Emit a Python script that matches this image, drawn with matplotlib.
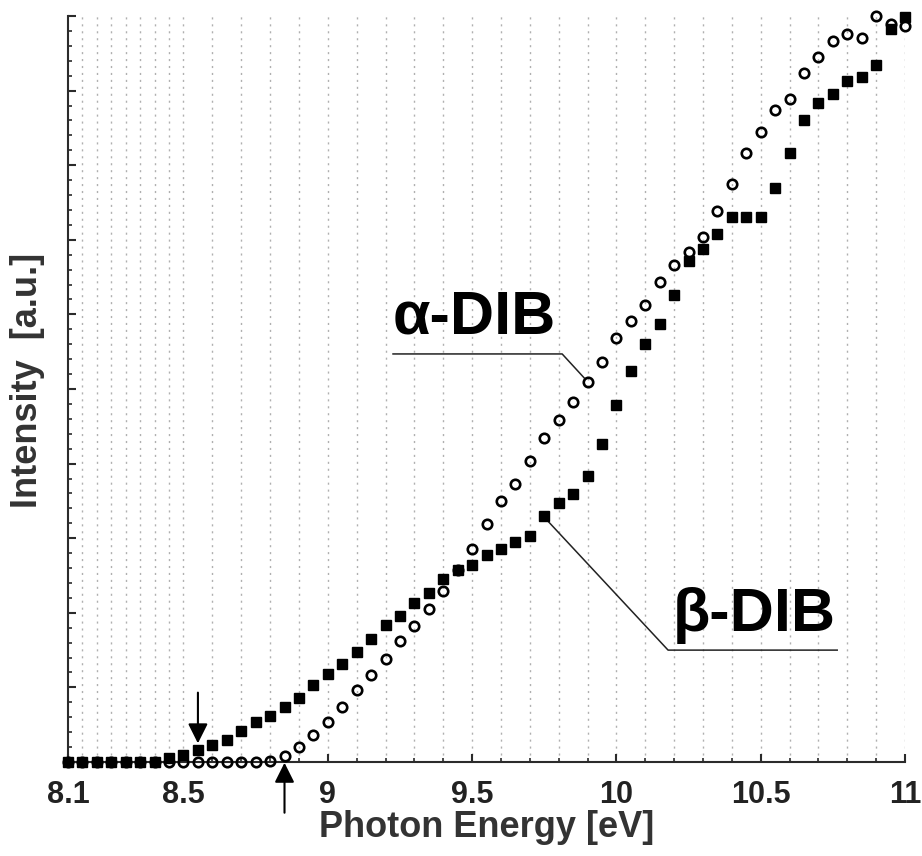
import numpy as np
import matplotlib
matplotlib.use("Agg")
from matplotlib import pyplot as plt
from matplotlib.ticker import MultipleLocator, FixedLocator

plt.rcParams["font.family"] = ["Liberation Sans", "DejaVu Sans"]

# photon energy grid [eV]
energy = [8.10, 8.15, 8.20, 8.25, 8.30, 8.35, 8.40, 8.45, 8.50, 8.55,
          8.60, 8.65, 8.70, 8.75, 8.80, 8.85, 8.90, 8.95, 9.00, 9.05,
          9.10, 9.15, 9.20, 9.25, 9.30, 9.35, 9.40, 9.45, 9.50, 9.55,
          9.60, 9.65, 9.70, 9.75, 9.80, 9.85, 9.90, 9.95, 10.00, 10.05,
          10.10, 10.15, 10.20, 10.25, 10.30, 10.35, 10.40, 10.45, 10.50, 10.55,
          10.60, 10.65, 10.70, 10.75, 10.80, 10.85, 10.90, 10.95, 11.00]

# alpha-DIB (open circles)
alpha_dib = [0, 0, 0, 0, 0, 0, 0, 0, 0, 0,
             0, 0, 0, 0, 0.02, 0.08, 0.20, 0.36, 0.53, 0.74,
             0.97, 1.17, 1.38, 1.62, 1.82, 2.05, 2.29, 2.57, 2.86, 3.19,
             3.50, 3.73, 4.03, 4.34, 4.59, 4.83, 5.09, 5.36, 5.68, 5.91,
             6.13, 6.43, 6.66, 6.83, 7.04, 7.39, 7.75, 8.16, 8.45, 8.74,
             8.89, 9.23, 9.45, 9.67, 9.76, 9.71, 10.0, 9.89, 9.86]

# beta-DIB (filled squares)
beta_dib = [0, 0, 0, 0, 0, 0, 0, 0.05, 0.09, 0.16,
            0.23, 0.30, 0.42, 0.53, 0.62, 0.74, 0.86, 1.03, 1.18, 1.32,
            1.48, 1.65, 1.84, 1.96, 2.13, 2.27, 2.45, 2.57, 2.64, 2.77,
            2.86, 2.95, 3.03, 3.30, 3.47, 3.59, 3.83, 4.26, 4.78, 5.24,
            5.61, 5.87, 6.26, 6.72, 6.88, 7.08, 7.30, 7.30, 7.30, 7.69,
            8.16, 8.61, 8.84, 8.96, 9.13, 9.18, 9.34, 9.82, 9.98]

xtick_labels = ["8.1", "8.5", "9", "9.5", "10", "10.5", "11"]
xtick_pos = [8.1, 8.5, 9.0, 9.5, 10.0, 10.5, 11.0]

# onset arrows
onset_beta = 8.55
onset_alpha = 8.85

axis_col = "#2b2b2b"

fig = plt.figure(figsize=(9.22, 8.56), dpi=100)
ax = fig.add_axes([0.0738, 0.1098, 0.9078, 0.8715])

# vertical dotted guide lines
grid_x = list(np.round(np.arange(8.15, 8.5, 0.05), 2)) + list(np.round(np.arange(8.5, 11.01, 0.1), 2))
for gx in grid_x:
    ax.axvline(gx, color="#b0b0b0", lw=1.0, dashes=(1.5, 3.5), zorder=0)

ax.plot(energy, beta_dib, ls="none", marker="s", ms=7.8, mfc="black", mec="black",
        zorder=3, clip_on=False)
ax.plot(energy, alpha_dib, ls="none", marker="o", ms=6.8, mfc="none", mec="black", mew=1.9,
        zorder=4, clip_on=False)

ax.set_xlim(8.1, 11.0)
ax.set_ylim(0, 10)

for s in ["top", "right"]:
    ax.spines[s].set_visible(False)
for s in ["left", "bottom"]:
    ax.spines[s].set_color(axis_col)
    ax.spines[s].set_linewidth(1.5)

ax.xaxis.set_major_locator(FixedLocator(xtick_pos))
ax.set_xticklabels(xtick_labels)
ax.xaxis.set_minor_locator(MultipleLocator(0.1))
ax.yaxis.set_major_locator(MultipleLocator(1))
ax.yaxis.set_minor_locator(MultipleLocator(0.2))
ax.set_yticklabels([])
ax.tick_params(which="major", direction="in", length=6, width=1.5, color=axis_col)
ax.tick_params(which="minor", direction="in", length=3, width=1.2, color=axis_col)
ax.tick_params(axis="x", which="major", pad=13, labelsize=22, labelcolor="#222222")
for lbl in ax.get_xticklabels():
    lbl.set_fontweight("bold")

ax.set_xlabel("Photon Energy [eV]", fontsize=26, fontweight="bold", color="#333333", labelpad=0)
ax.set_ylabel("Intensity  [a.u.]", fontsize=26, fontweight="bold", color="#333333")
ax.yaxis.set_label_coords(-0.028, 0.512)

# labels with leader lines
ax.plot([9.226, 9.812, 9.888], [5.47, 5.47, 5.15], color="#222222", lw=1.1, zorder=2)
ax.text(9.226, 5.74, "α-DIB", fontsize=44, fontweight="bold", ha="left", va="baseline")
ax.plot([10.765, 10.179, 9.76], [1.50, 1.50, 3.24], color="#222222", lw=1.1, zorder=2)
ax.text(10.196, 1.75, "β-DIB", fontsize=44, fontweight="bold", ha="left", va="baseline")

# onset arrows
ax.annotate("", xy=(onset_beta, 0.25), xytext=(onset_beta, 0.93),
            arrowprops=dict(arrowstyle="-|>", color="black", lw=1.5, mutation_scale=30,
                            shrinkA=0, shrinkB=0), annotation_clip=False)
ax.annotate("", xy=(onset_alpha, -0.01), xytext=(onset_alpha, -0.68),
            arrowprops=dict(arrowstyle="-|>", color="black", lw=1.5, mutation_scale=30,
                            shrinkA=0, shrinkB=0), annotation_clip=False)

fig.savefig("out.png", dpi=100)
